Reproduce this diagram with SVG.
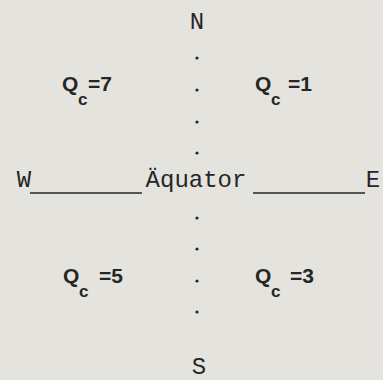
<svg xmlns="http://www.w3.org/2000/svg" width="383" height="380" viewBox="0 0 383 380">
<style>
.mono{font-family:"Liberation Mono","Courier New",monospace;font-size:24px;fill:#262626}
.q{font-family:"Liberation Sans",Arial,sans-serif;font-weight:bold;font-size:21px;fill:#262626}
.sub{font-size:17px}
.dot{fill:#262626}
.ln{stroke:#262626;stroke-width:1.6}
</style>
<rect width="383" height="380" fill="#e4e3dd"/>
<g id="connectors">
<line class="ln" x1="30" y1="193" x2="142" y2="193"/>
<line class="ln" x1="253" y1="193" x2="365" y2="193"/>
</g>
<g id="meridian">
<circle class="dot" cx="197" cy="58" r="1.6"/>
<circle class="dot" cx="197" cy="90" r="1.6"/>
<circle class="dot" cx="197" cy="122" r="1.6"/>
<circle class="dot" cx="197" cy="153" r="1.6"/>
<circle class="dot" cx="197" cy="218" r="1.6"/>
<circle class="dot" cx="197" cy="249" r="1.6"/>
<circle class="dot" cx="197" cy="281" r="1.6"/>
<circle class="dot" cx="197" cy="312" r="1.6"/>
</g>
<g id="north"><text class="mono" x="197" y="29" text-anchor="middle">N</text></g>
<g id="south"><text class="mono" x="199" y="374" text-anchor="middle">S</text></g>
<g id="west"><text class="mono" x="24" y="187" text-anchor="middle">W</text></g>
<g id="east"><text class="mono" x="373" y="187" text-anchor="middle">E</text></g>
<g id="equator"><text class="mono" x="196" y="187" text-anchor="middle">Äquator</text></g>
<g id="q7"><text class="q" x="62" y="91">Q</text><text class="q sub" x="78" y="105">c</text><text class="q" x="88" y="91">=7</text></g>
<g id="q1"><text class="q" x="255" y="91">Q</text><text class="q sub" x="271" y="105">c</text><text class="q" x="288" y="91">=1</text></g>
<g id="q5"><text class="q" x="63" y="283">Q</text><text class="q sub" x="79" y="297">c</text><text class="q" x="99" y="283">=5</text></g>
<g id="q3"><text class="q" x="255" y="283">Q</text><text class="q sub" x="271" y="297">c</text><text class="q" x="290" y="283">=3</text></g>
</svg>
